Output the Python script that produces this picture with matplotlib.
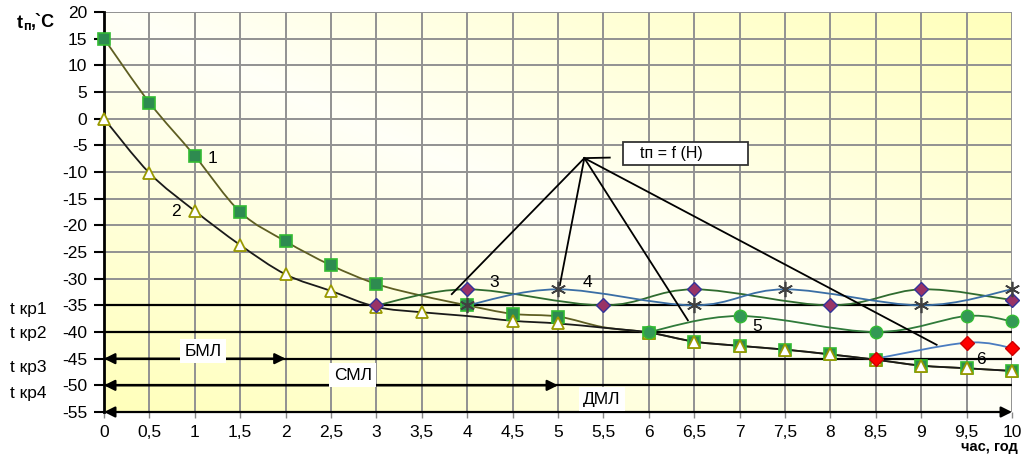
import numpy as np
import matplotlib
matplotlib.use("Agg")
import matplotlib.pyplot as plt
from matplotlib.path import Path
from matplotlib.patches import PathPatch, Rectangle

plt.rcParams['font.family'] = ['Liberation Sans', 'DejaVu Sans']
plt.rcParams['axes.unicode_minus'] = False

# --- данные ---
hours = [0, 0.5, 1, 1.5, 2, 2.5, 3, 3.5, 4, 4.5, 5, 5.5, 6, 6.5, 7, 7.5, 8, 8.5, 9, 9.5, 10]
t_curve1 = [15, 3, -7, -17.5, -23, -27.5, -31, -33.2, -35, -36.6, -37.1, -39.1, -40.1,
            -41.8, -42.6, -43.3, -44.2, -45.2, -46.3, -46.8, -47.3]
t_curve2 = [0, -10.2, -17.3, -23.7, -29.2, -32.3, -35.3, -36.3, -37, -37.9, -38.4, -39.2, -40.1,
            -41.8, -42.6, -43.3, -44.2, -45.2, -46.3, -46.8, -47.3]
marks_curve1 = [0, 1, 2, 3, 4, 5, 6, 8, 9, 10, 12, 13, 14, 15, 16, 17, 18, 19, 20]
marks_curve2 = [0, 1, 2, 3, 4, 5, 6, 7, 9, 10, 12, 13, 14, 15, 16, 17, 18, 19, 20]

x_curve3 = [3, 4, 5.5, 6.5, 8, 9, 10]
t_curve3 = [-35, -32, -35, -32, -35, -32, -34]
x_curve4 = [4, 5, 6.5, 7.5, 9, 10]
t_curve4 = [-35, -32, -35, -32, -35, -32]
x_curve5 = [6, 7, 8.5, 9.5, 10]
t_curve5 = [-40, -37, -40, -37, -38]
x_curve6 = [8.5, 9.5, 10]
t_curve6 = [-45, -42, -43]

t_crit = [-35, -40, -45, -50]
crit_labels = ['t кр1', 't кр2', 't кр3', 't кр4']
zone_ends = [2, 5, 10]
zone_labels = ['БМЛ', 'СМЛ', 'ДМЛ']

xticks = [0, 0.5, 1, 1.5, 2, 2.5, 3, 3.5, 4, 4.5, 5, 5.5, 6, 6.5, 7, 7.5, 8, 8.5, 9, 9.5, 10]
xtick_labels = [('%g' % v).replace('.', ',') for v in xticks]
yticks = list(range(-55, 21, 5))


def smooth_path(xs, ys):
    """Сглаженная линия как в Excel (кривые Безье)"""
    pts = np.column_stack([xs, ys]).astype(float)
    n = len(pts)
    verts = [pts[0]]
    codes = [Path.MOVETO]
    for i in range(n - 1):
        p0 = pts[i - 1] if i > 0 else pts[i]
        p1 = pts[i]
        p2 = pts[i + 1]
        p3 = pts[i + 2] if i + 2 < n else pts[i + 1]
        verts += [p1 + (p2 - p0) / 6, p2 - (p3 - p1) / 6, p2]
        codes += [Path.CURVE4] * 3
    return Path(verts, codes)


def add_curve(ax, xs, ys, color, lw=1.3, z=3):
    ax.add_patch(PathPatch(smooth_path(xs, ys), fill=False, edgecolor=color,
                           lw=lw, zorder=z, clip_on=False))


fig = plt.figure(figsize=(10.27, 4.54), dpi=100)
ax = fig.add_axes([0.1013, 0.0925, 0.8841, 0.8811])

# фон с градиентом
gx, gy = np.meshgrid(np.linspace(0, 1, 200), np.linspace(0, 1, 200))
g = np.abs(gx + gy - 1)
bg = np.zeros((200, 200, 3))
bg[..., 0] = 1.0
bg[..., 1] = 1.0
bg[..., 2] = 0.97 - 0.24 * g
ax.imshow(bg, extent=[0, 10, -55, 20], origin='lower', aspect='auto', zorder=0)

ax.set_xlim(0, 10)
ax.set_ylim(-55, 20)
ax.set_xticks(xticks)
ax.set_xticklabels(xtick_labels, fontsize=12.5)
ax.set_yticks(yticks)
ax.set_yticklabels([str(v) for v in yticks], fontsize=12.5)
ax.tick_params(axis='y', direction='out', length=7, width=1.5, pad=5)
ax.tick_params(axis='x', direction='out', length=4, width=1, color='#888888', pad=5)
ax.grid(True, color='#929292', lw=1.4, zorder=0.5)
ax.set_axisbelow(True)
for s in ['top', 'right', 'bottom']:
    ax.spines[s].set_visible(False)
ax.spines['left'].set_linewidth(2)

# критические температуры
for tc in t_crit:
    ax.plot([0, 10], [tc, tc], color='black', lw=1.6, zorder=2)
for tc, lab, dy in zip(t_crit, crit_labels, [-0.7, -0.3, -1.6, -1.5]):
    ax.text(-0.104, tc + dy, lab, transform=ax.get_yaxis_transform(),
            fontsize=12.5, ha='left', va='center')

# зоны БМЛ / СМЛ / ДМЛ
for y_arrow, x_end in zip([-45, -50, -55], zone_ends):
    ax.annotate('', xy=(x_end, y_arrow), xytext=(0, y_arrow),
                arrowprops=dict(arrowstyle='<|-|>', color='black', lw=1.6,
                                mutation_scale=16, shrinkA=0, shrinkB=0),
                annotation_clip=False, zorder=2)
for lab, (lx, ly) in zip(zone_labels, [(1.09, -43.6), (2.74, -48.1), (5.48, -52.6)]):
    ax.text(lx, ly, lab, fontsize=12.5, ha='center', va='center', zorder=4,
            bbox=dict(boxstyle='square,pad=0.25', facecolor='white', edgecolor='none'))

# кривые
add_curve(ax, hours, t_curve1, '#5e5e22', z=3)
add_curve(ax, hours, t_curve2, '#1a1a1a', z=3.1)
add_curve(ax, x_curve3, t_curve3, '#2f6b2f', z=3)
add_curve(ax, x_curve4, t_curve4, '#3a6ea5', z=3)
add_curve(ax, x_curve5, t_curve5, '#2f7a3a', z=3)
add_curve(ax, x_curve6, t_curve6, '#4a7cc0', z=3)

h = np.array(hours)
ax.plot(h[marks_curve1], np.array(t_curve1)[marks_curve1], ls='none', marker='s', ms=9,
        mfc='#2e8b50', mec='#33bb33', mew=1.2, zorder=5, clip_on=False)
ax.plot(h[marks_curve2], np.array(t_curve2)[marks_curve2], ls='none', marker='^', ms=8,
        mfc='white', mec='#999900', mew=1.3, zorder=6, clip_on=False)
ax.plot(x_curve3, t_curve3, ls='none', marker='D', ms=7, mfc='#993366', mec='#333399',
        mew=1, zorder=6, clip_on=False)
ax.plot(x_curve4, t_curve4, ls='none', marker=(6, 2, 0), ms=11, mec='#404040',
        mew=1.2, zorder=6, clip_on=False)
ax.plot(x_curve5, t_curve5, ls='none', marker='o', ms=9, mfc='#339955', mec='#33bb33',
        mew=1, zorder=6, clip_on=False)
ax.plot(x_curve6, t_curve6, ls='none', marker='D', ms=7, mfc='#ff0000', mec='#cc0000',
        mew=1, zorder=7, clip_on=False)

# номера кривых
for num, (nx, ny) in zip(['1', '2', '3', '4', '5', '6'],
                         [(1.2, -7.4), (0.79, -17.5), (4.3, -30.8), (5.32, -30.8),
                          (7.19, -38.9), (9.66, -45.1)]):
    ax.text(nx, ny, num, fontsize=12.5, ha='center', va='center', zorder=8)

# выноска tп = f(Н)
hub = (5.29, -7.4)
for ex, ey in [(3.83, -32.9), (5.02, -31.2), (6.43, -37.8), (9.17, -42.4)]:
    ax.plot([hub[0], ex], [hub[1], ey], color='black', lw=1.3, zorder=4)
ax.plot([hub[0], 5.57], [hub[1], -7.3], color='black', lw=1.3, zorder=4)
ax.add_patch(Rectangle((5.72, -8.7), 1.37, 4.4, facecolor='white', edgecolor='#333333',
                       lw=1.3, zorder=4))
ax.text(5.9, -6.5, 'tп = f (Н)', fontsize=11.5, ha='left', va='center', zorder=5)

# подписи осей
fig.text(17 / 1027, 1 - 23 / 454, 't', fontsize=13, fontweight='bold', ha='left', va='center')
fig.text(23 / 1027, 1 - 27 / 454, 'п', fontsize=9, fontweight='bold', ha='left', va='center')
fig.text(31 / 1027, 1 - 23 / 454, ',`C', fontsize=13, fontweight='bold', ha='left', va='center')
fig.text(1018 / 1027, 0.5 / 454, 'час, год', fontsize=10.5, fontweight='bold',
         ha='right', va='bottom')

plt.savefig('out.png', dpi=100)
plt.close()
